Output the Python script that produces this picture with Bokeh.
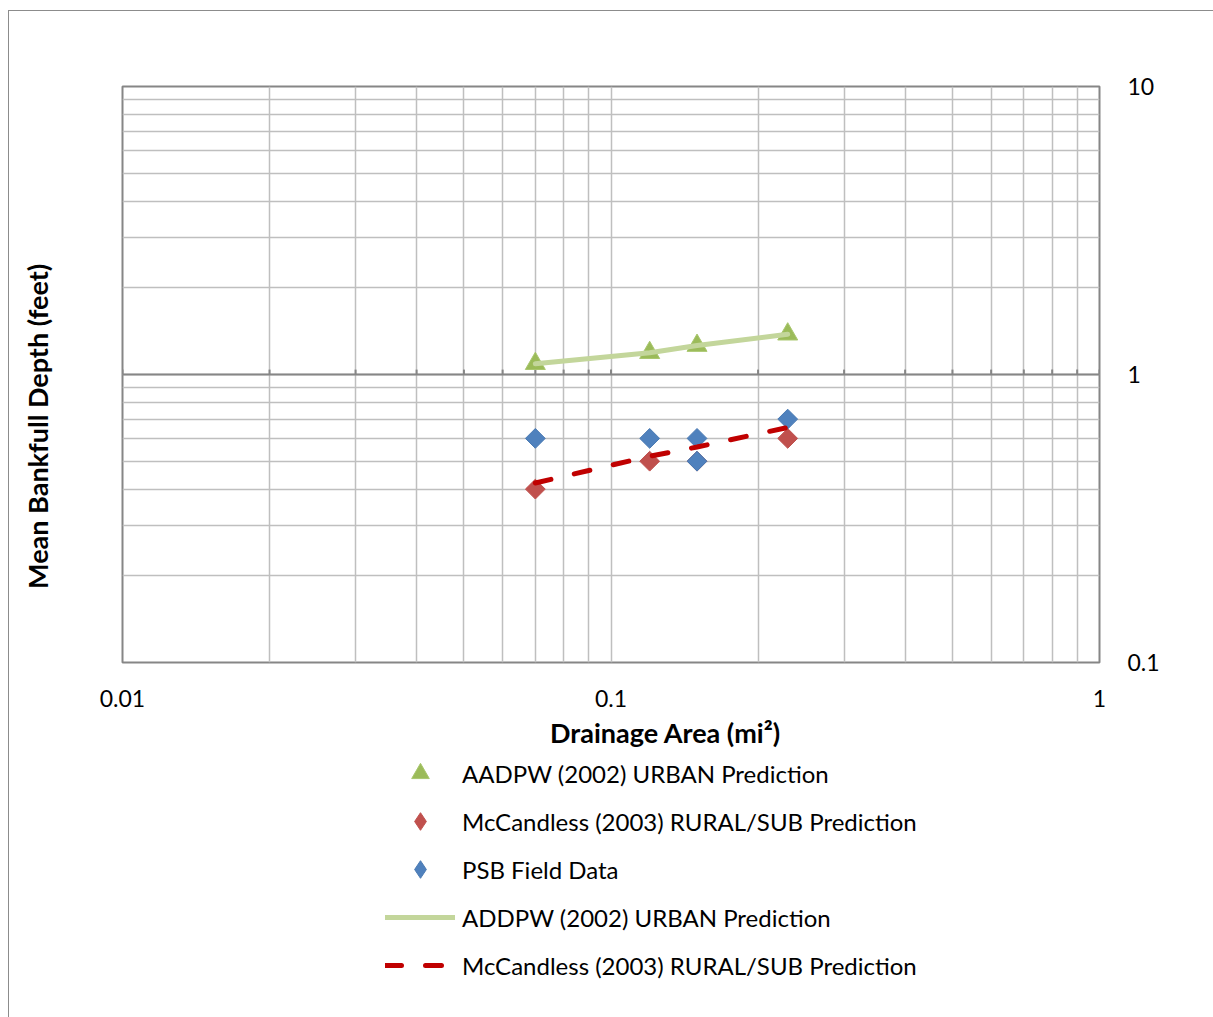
import numpy as np
from bokeh.plotting import figure
from bokeh.layouts import row, column
from bokeh.models import (FixedTicker, CustomJSTickFormatter, Range1d,
                          Legend, LegendItem, Span)
from bokeh.core.properties import value
from bokeh.embed import file_html
from bokeh.resources import INLINE

# ---- data ----
area = [0.07, 0.12, 0.15, 0.23]
aadpw_depth = [1.09, 1.19, 1.26, 1.38]
mccandless_depth = [0.40, 0.50, 0.50, 0.60]
psb_area = [0.07, 0.12, 0.15, 0.15, 0.23]
psb_depth = [0.60, 0.60, 0.60, 0.50, 0.70]
aadpw_line = [1.09, 1.19, 1.26, 1.38]
mccandless_line = [0.42, 0.52, 0.56, 0.655]

x_ticks = [0.01, 0.1, 1]
x_minor = [0.02, 0.03, 0.04, 0.05, 0.06, 0.07, 0.08, 0.09,
           0.2, 0.3, 0.4, 0.5, 0.6, 0.7, 0.8, 0.9]
y_ticks = [0.1, 1, 10]
y_minor = [0.2, 0.3, 0.4, 0.5, 0.6, 0.7, 0.8, 0.9,
           2, 3, 4, 5, 6, 7, 8, 9]

x_title = "Drainage Area (mi²)"
y_title = "Mean Bankfull Depth (feet)"
legend_labels = ["AADPW (2002) URBAN Prediction",
                 "McCandless (2003) RURAL/SUB Prediction",
                 "PSB Field Data",
                 "ADDPW (2002) URBAN Prediction",
                 "McCandless (2003) RURAL/SUB Prediction"]

FONT = "Lato"
TRI = dict(marker="triangle", size=20, fill_color="#9BBB59", line_color="#A9C76E", line_width=1)
RED = dict(marker="square", angle=np.pi / 4, size=14, fill_color="#C0504D", line_color="#C0504D")
BLUE = dict(marker="square", angle=np.pi / 4, size=14, fill_color="#4F81BD", line_color="#4A7AB3")
GLINE = dict(line_color="#C3D69B", line_width=5, line_cap="round")
RLINE = dict(line_color="#C00000", line_width=5, line_dash="16 24", line_cap="round")

TOP_H = 705
LEFT_W = 80
# ---------------- main chart ----------------
p = figure(width=1204 - LEFT_W, height=TOP_H, x_axis_type="log", y_axis_type="log",
           y_axis_location="right",
           x_range=Range1d(0.01, 1), y_range=Range1d(0.1, 10),
           output_backend="svg", toolbar_location=None,
           min_border_left=113 - LEFT_W, min_border_right=114,
           min_border_top=75, min_border_bottom=TOP_H - 75 - 576,
           background_fill_color="white", border_fill_color="white")

p.outline_line_color = "#868686"
p.outline_line_width = 2

p.xaxis.ticker = FixedTicker(ticks=x_ticks, minor_ticks=x_minor)
p.yaxis.ticker = FixedTicker(ticks=y_ticks, minor_ticks=y_minor)
fmt = CustomJSTickFormatter(code="return String(Number(tick.toPrecision(3)));")
p.xaxis.formatter = fmt
p.yaxis.formatter = fmt

for ax in (p.xaxis, p.yaxis):
    ax.axis_line_color = None
    ax.major_tick_line_color = None
    ax.minor_tick_line_color = None
    ax.major_label_text_font = FONT
    ax.major_label_text_font_size = "23px"
    ax.major_label_text_color = "black"
p.xaxis.major_label_standoff = 21
p.yaxis.major_label_standoff = 22

for g in (p.xgrid, p.ygrid):
    g.grid_line_color = "#BFBFBF"
    g.grid_line_width = 1.5
    g.minor_grid_line_color = "#BFBFBF"
    g.minor_grid_line_width = 1.5

# horizontal axis crossing at depth = 1
p.add_layout(Span(location=1, dimension="width", line_color="#868686", line_width=2))
all_x = x_ticks + x_minor
p.segment(x0=all_x, y0=[1] * len(all_x), x1=all_x, y1=[1.04] * len(all_x),
          line_color="#868686", line_width=2)

p.scatter(area, aadpw_depth, **TRI)
p.scatter(area, mccandless_depth, **RED)
p.scatter(psb_area, psb_depth, **BLUE)
p.line(area, aadpw_line, **GLINE)
p.line(area, mccandless_line, **RLINE)

# ---------------- left strip with y title ----------------
left = figure(width=LEFT_W, height=TOP_H, x_range=Range1d(9, 9 + LEFT_W),
              y_range=Range1d(11 + TOP_H, 11),
              output_backend="svg", toolbar_location=None, min_border=0,
              x_axis_type=None, y_axis_type=None, outline_line_color=None,
              background_fill_color="white", border_fill_color="white")
left.grid.visible = False
left.text(x=[37], y=[427], text=[y_title], angle=np.pi / 2,
          text_align="center", text_baseline="middle",
          text_font=value(FONT), text_font_style="bold", text_font_size="27px",
          text_color="black")

# ---------------- bottom strip: x title + legend ----------------
BOT_H = 1006 - TOP_H
bottom = figure(width=1204, height=BOT_H, x_range=Range1d(9, 1213),
                y_range=Range1d(1017, 1017 - BOT_H),
                output_backend="svg", toolbar_location=None, min_border=0,
                x_axis_type=None, y_axis_type=None, outline_line_color=None,
                background_fill_color="white", border_fill_color="white")
bottom.grid.visible = False
bottom.text(x=[665], y=[732], text=[x_title],
            text_align="center", text_baseline="middle",
            text_font=value(FONT), text_font_style="bold", text_font_size="27px",
            text_color="black")

# legend swatches: the same series, drawn in this strip (they fall outside its visible range);
# legend markers are not rotated by Bokeh, so the diamond marker stands in for the rotated square
RED_L = dict(RED, marker="diamond", angle=0)
BLUE_L = dict(BLUE, marker="diamond", angle=0)
lr = [bottom.scatter(area, aadpw_depth, **TRI),
      bottom.scatter(area, mccandless_depth, **RED_L),
      bottom.scatter(psb_area, psb_depth, **BLUE_L),
      bottom.line(area, aadpw_line, **GLINE),
      bottom.line(area, mccandless_line, **RLINE)]

legend = Legend(items=[LegendItem(label=lab, renderers=[r]) for lab, r in zip(legend_labels, lr)],
                location=(376, 30), orientation="vertical",
                glyph_width=70, glyph_height=44, label_height=40, spacing=4,
                padding=0, margin=0, label_standoff=7,
                border_line_color=None, background_fill_alpha=0,
                label_text_font=FONT, label_text_font_size="24px", label_text_color="black")
bottom.add_layout(legend)

layout = column(row(left, p), bottom)
layout.margin = (10, 0, 0, 8)
layout.styles = {"border-top": "1px solid #8c8c8c", "border-left": "1px solid #8c8c8c"}

open("out.html", "w").write(file_html(layout, INLINE))
